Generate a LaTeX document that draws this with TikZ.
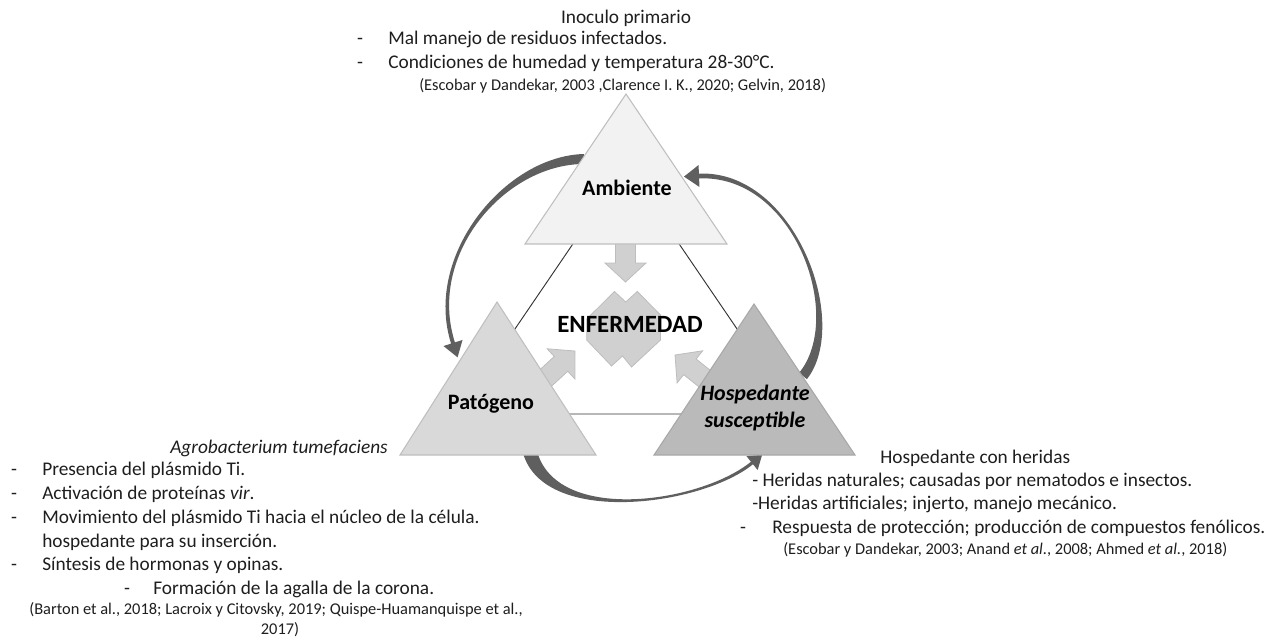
\documentclass[tikz,border=0pt]{standalone}
\usepackage{fontspec}
\setmainfont{Carlito}
\usetikzlibrary{calc}
\definecolor{txtc}{HTML}{1E1E1E}
\definecolor{triAfill}{HTML}{F2F2F2}
\definecolor{triPfill}{HTML}{D9D9D9}
\definecolor{triHfill}{HTML}{BABABA}
\definecolor{triedge}{HTML}{BFBFBF}
\definecolor{triedgeH}{HTML}{A8A8A8}
\definecolor{blkfill}{HTML}{D0D0D0}
\definecolor{blkedge}{HTML}{BDBDBD}
\definecolor{arcc}{HTML}{5F5F5F}
\definecolor{linec}{HTML}{333333}
% tapered curved arrow: #1 start, #2 c1, #3 c2, #4 head base, #5 tail half width, #6 c1 half width, #7 end half width, #8 head half width, #9 head length
\newcommand\taperarrow[9]{%
  \fill[arcc] ($(#1)!#5!90:(#2)$) .. controls ($(#2)!#6!-90:(#1)$) and ($(#3)!#7!90:(#4)$) .. ($(#4)!#7!-90:(#3)$)
    -- ($(#4)!#8!-90:(#3)$) -- ($(#4)!-#9!(#3)$) -- ($(#4)!#8!90:(#3)$)
    -- ($(#4)!#7!90:(#3)$) .. controls ($(#3)!#7!-90:(#4)$) and ($(#2)!#6!90:(#1)$) .. ($(#1)!#5!-90:(#2)$) -- cycle;}
\newcommand\blockarr[3]{%
  \begin{scope}[shift={(#1,#2)}, rotate=#3]
    \filldraw[fill=blkfill, draw=blkedge, line width=0.6pt] (0,0) -- (-19,-20.5) -- (-19,-10) -- (-42,-10) -- (-42,10) -- (-19,10) -- (-19,20.5) -- cycle;
  \end{scope}}
\tikzset{
  body/.style={inner sep=0pt, font=\fontsize{14.5}{17}\selectfont, text=txtc},
  cite/.style={inner sep=0pt, font=\fontsize{12.3}{14.8}\selectfont, text=txtc},
  lab/.style={inner sep=0pt, font=\fontsize{16.5}{19.8}\selectfont\bfseries, text=black},
  bigl/.style={draw=linec, line width=0.7pt},
}
\begin{document}
\begin{tikzpicture}[x=0.75pt, y=-0.75pt]
\useasboundingbox (0,0) rectangle (1280,639);
% big triangle lines
\draw[bigl] (457,414) -- (626,166) -- (795,414) -- cycle;
% curved arrows
\coordinate (la) at (584,159); \coordinate (la1) at (505,160); \coordinate (la2) at (425,255); \coordinate (lb) at (453,343);
\taperarrow{la}{la1}{la2}{lb}{3.75pt}{3pt}{1.5pt}{7.5pt}{11.25pt}
\coordinate (ra) at (803,376); \coordinate (ra1) at (848,320); \coordinate (ra2) at (795,172); \coordinate (rb) at (699,176);
\taperarrow{ra}{ra1}{ra2}{rb}{3.75pt}{3.2pt}{1.8pt}{8.25pt}{11.25pt}
\coordinate (ba) at (530,452); \coordinate (ba1) at (550,525); \coordinate (ba2) at (700,505); \coordinate (bb) at (752,463);
\taperarrow{ba}{ba1}{ba2}{bb}{5.25pt}{4pt}{1.2pt}{6.75pt}{9.75pt}
% block arrows
\blockarr{625.5}{282}{-90}
\blockarr{575}{351}{42.6}
\blockarr{675}{355}{141.5}
% center shape
\filldraw[fill=blkfill, draw=blkedge, line width=0.6pt] (614.5,291.5) -- (625.7,302) -- (637.3,291.5) -- (660.5,315) -- (660.5,340) -- (631.5,367) -- (622.5,356) -- (611.5,366) -- (586.7,340) -- (586.7,319) -- cycle;
% triangles
\filldraw[fill=triAfill, draw=triedge, line width=0.8pt] (626,94) -- (727,244) -- (525,244) -- cycle;
\filldraw[fill=triPfill, draw=triedge, line width=0.8pt] (497,302) -- (596,455) -- (400,455) -- cycle;
\filldraw[fill=triHfill, draw=triedgeH, line width=0.8pt] (754,304) -- (855,455) -- (654,455) -- cycle;
% labels
\node[lab, anchor=base] (amb) at (627,195) {Ambiente};
\node[lab, anchor=base] (pat) at (491,409) {Patógeno};
\node[lab, anchor=base] (hos1) at (755,400) {\itshape Hospedante};
\node[lab, anchor=base] (hos2) at (755,427) {\itshape susceptible};
\node[lab, anchor=base, font=\fontsize{18.6}{22}\selectfont\bfseries] (enf) at (630,332) {ENFERMEDAD};
% top text
\node[body, anchor=base] (inoc) at (626,23) {Inoculo primario};
\node[body, anchor=base] (d1) at (360,44) {-};
\node[body, anchor=base west] (t1) at (388,44) {Mal manejo de residuos infectados.};
\node[body, anchor=base] (d2) at (360,68) {-};
\node[body, anchor=base west] (t2) at (388,68) {Condiciones de humedad y temperatura 28-30°C.};
\node[cite, anchor=base west] (c1) at (419,90) {(Escobar y Dandekar, 2003 ,Clarence I. K., 2020; Gelvin, 2018)};
% left text
\node[body, anchor=base west] (agro) at (170,453) {\itshape Agrobacterium tumefaciens};
\node[body, anchor=base] (ld1) at (14,475) {-};
\node[body, anchor=base west] (l1) at (42,475) {Presencia del plásmido Ti.};
\node[body, anchor=base] (ld2) at (14,499) {-};
\node[body, anchor=base west] (l2) at (42,499) {Activación de proteínas \textit{vir}.};
\node[body, anchor=base] (ld3) at (14,523) {-};
\node[body, anchor=base west] (l3) at (42,523) {Movimiento del plásmido Ti hacia el núcleo de la célula.};
\node[body, anchor=base west] (l4) at (42,547) {hospedante para su inserción.};
\node[body, anchor=base] (ld5) at (14,570) {-};
\node[body, anchor=base west] (l5) at (42,570) {Síntesis de hormonas y opinas.};
\node[body, anchor=base] (ld6) at (127,594) {-};
\node[body, anchor=base west] (l6) at (153,594) {Formación de la agalla de la corona.};
\node[cite, anchor=base] (lc1) at (276,614) {(Barton et al., 2018; Lacroix y Citovsky, 2019; Quispe-Huamanquispe et al.,};
\node[cite, anchor=base] (lc2) at (280,634) {2017)};
% right text
\node[body, anchor=base west] (hh) at (880,463) {Hospedante con heridas};
\node[body, anchor=base west] (r1) at (752,486) {- Heridas naturales; causadas por nematodos e insectos.};
\node[body, anchor=base west] (r2) at (752,509) {-Heridas artificiales; injerto, manejo mecánico.};
\node[body, anchor=base] (rd3) at (743,533) {-};
\node[body, anchor=base west] (r3) at (772,533) {Respuesta de protección; producción de compuestos fenólicos.};
\node[cite, anchor=base west] (rc) at (783,554) {(Escobar y Dandekar, 2003; Anand \textit{et al.}, 2008; Ahmed \textit{et al.}, 2018)};
\end{tikzpicture}
\end{document}
